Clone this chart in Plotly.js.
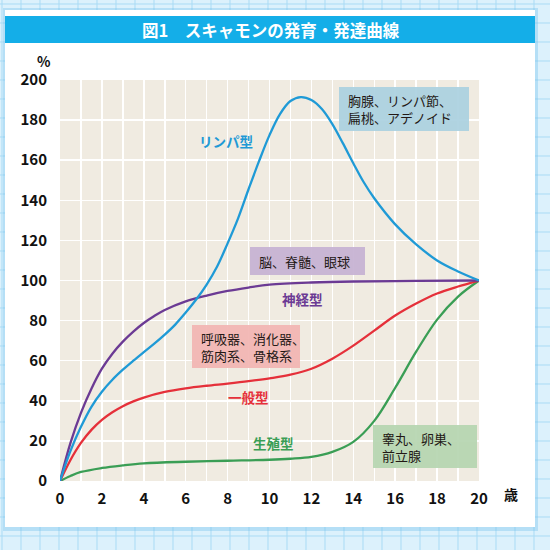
<!DOCTYPE html>
<html>
<head>
<meta charset="utf-8">
<script src="https://cdn.plot.ly/plotly-3.0.1.min.js"></script>
<style>html,body{margin:0;padding:0;background:#fff;}#chart{width:550px;height:550px;}</style>
</head>
<body>
<div id="chart"></div>
<script>
// ---- data (ages in years, development in % of age-20 level) ----
const lymphAge = [0, 0.5, 1, 1.5, 2, 2.5, 3, 3.5, 4, 4.5, 5, 5.5, 6, 6.5, 7, 7.5, 8, 8.5, 9, 9.5, 10, 10.5, 11, 11.5, 12, 12.5, 13, 13.5, 14, 14.5, 15, 16, 17, 18, 19, 20];
const lymphVal = [0, 15, 27, 37, 44.5, 50.5, 55.5, 60, 64.3, 68.5, 73, 78, 84, 90.5, 98, 107, 118.5, 131, 145.5, 159.5, 172.5, 183, 189.5, 191.5, 190, 185.5, 178, 168.5, 158.5, 149, 141, 128, 118, 110, 104.5, 100];

const neuralAge = [0, 0.5, 1, 1.5, 2, 2.5, 3, 3.5, 4, 4.5, 5, 6, 7, 8, 9, 10, 12, 14, 17, 20];
const neuralVal = [0, 19, 34, 46, 56, 63.5, 69.5, 74.5, 78.8, 82.3, 85.3, 89.6, 92.5, 94.8, 96.5, 97.9, 99, 99.5, 99.8, 100];

const generalAge = [0, 0.5, 1, 1.5, 2, 2.5, 3, 3.5, 4, 5, 6, 7, 8, 9, 10, 11, 12, 13, 14, 15, 16, 17, 18, 19, 20];
const generalVal = [0, 10.5, 19, 25.5, 30.5, 34.3, 37.3, 39.7, 41.6, 44.4, 46.2, 47.5, 48.6, 49.8, 51.2, 53, 56, 61, 67.5, 75, 82.5, 88.5, 93.5, 97, 100];

const reproAge = [0, 0.5, 1, 2, 3, 4, 6, 8, 10, 11, 12, 13, 14, 15, 16, 17, 18, 19, 20];
const reproVal = [0, 2.5, 4.5, 6.5, 7.8, 8.8, 9.6, 10.1, 10.6, 11.1, 12, 14.5, 19.5, 30, 46.5, 64.5, 80.5, 92, 100];

const seriesNames = ["リンパ型", "神経型", "一般型", "生殖型"];
const organLabels = [
  "胸腺、リンパ節、<br>扁桃、アデノイド",
  "脳、脊髄、眼球",
  "呼吸器、消化器、<br>筋肉系、骨格系",
  "睾丸、卵巣、<br>前立腺"
];
const xTickVals = [0, 2, 4, 6, 8, 10, 12, 14, 16, 18, 20];
const yTickVals = [0, 20, 40, 60, 80, 100, 120, 140, 160, 180, 200];
const titleText = "図1　スキャモンの発育・発達曲線";
const yUnit = "%";
const xUnit = "歳";

// ---- styling ----
const C = {blue:"#1f9ad6", purple:"#6b3a94", red:"#e5303a", green:"#3a9e55"};
const FONT = "'Noto Sans CJK JP', 'Noto Sans', sans-serif";
const W = 550, H = 550, L = 60, R = 71, T = 80, B = 69;
const PW = W - L - R, PH = H - T - B;
const px = v => (v - L) / PW;          // pixel -> paper x
const py = v => (H - B - v) / PH;      // pixel -> paper y

function line(x, y, color, name) {
  return {x: x, y: y, type: "scatter", mode: "lines", name: name,
    line: {color: color, width: 2.3, shape: "spline", smoothing: 1}, hoverinfo: "skip"};
}
const traces = [
  line(reproAge, reproVal, C.green, seriesNames[3]),
  line(generalAge, generalVal, C.red, seriesNames[2]),
  line(neuralAge, neuralVal, C.purple, seriesNames[1]),
  line(lymphAge, lymphVal, C.blue, seriesNames[0])
];

// background: grid paper, white card, title bar, plot area
const shapes = [];
for (let gx = 2; gx < W; gx += 19) {
  shapes.push({type:"line", xref:"paper", yref:"paper", x0:px(gx), x1:px(gx), y0:py(0), y1:py(H),
    line:{color:"#a9dbf5", width:1}, layer:"below"});
}
for (let gy = 4; gy < H; gy += 19) {
  shapes.push({type:"line", xref:"paper", yref:"paper", x0:px(0), x1:px(W), y0:py(gy), y1:py(gy),
    line:{color:"#a9dbf5", width:1}, layer:"below"});
}
shapes.push({type:"rect", xref:"paper", yref:"paper", x0:px(3), x1:px(538), y0:py(8), y1:py(531),
  fillcolor:"rgba(110,190,235,0.35)", line:{width:0}, layer:"below"});
shapes.push({type:"rect", xref:"paper", yref:"paper", x0:px(5), x1:px(535), y0:py(10), y1:py(527),
  fillcolor:"#ffffff", line:{width:0}, layer:"below"});
shapes.push({type:"rect", xref:"paper", yref:"paper", x0:px(5), x1:px(535), y0:py(16), y1:py(43),
  fillcolor:"#14aee8", line:{width:0}, layer:"below"});
shapes.push({type:"rect", xref:"paper", yref:"paper", x0:0, x1:1, y0:0, y1:1,
  fillcolor:"#f0ebe1", line:{width:0}, layer:"below"});

// annotation boxes (pixel rectangles -> paper coords)
function boxRect(x0, x1, y0, y1, fill) {
  shapes.push({type:"rect", xref:"paper", yref:"paper", x0:px(x0), x1:px(x1), y0:py(y1), y1:py(y0),
    fillcolor: fill, line:{width:0}, layer:"above"});
}
boxRect(339, 469, 87, 131, "rgba(170,208,224,0.92)");
boxRect(250, 365, 247, 275, "rgba(198,177,210,0.92)");
boxRect(192, 300, 325, 368, "rgba(242,180,178,0.92)");
boxRect(373, 477, 425, 468, "rgba(181,213,176,0.92)");

const annotations = [];
function boxText(text, x, yCenter) {
  const lines = text.split("<br>");
  const gap = 17.5;
  lines.forEach((t, i) => {
    const y = yCenter + (i - (lines.length - 1) / 2) * gap;
    annotations.push({text: t, xref:"paper", yref:"paper", x: px(x), y: py(y), xanchor:"left", yanchor:"middle",
      showarrow:false, align:"left", borderpad:0, font:{family: FONT, size: 13, color:"#231815"}});
  });
}
function label(text, x, y, color) {
  annotations.push({text: "<b>" + text + "</b>", xref:"paper", yref:"paper", x: px(x), y: py(y),
    xanchor:"center", yanchor:"middle", showarrow:false,
    font:{family: FONT, size: 13.5, color: color}});
}
boxText(organLabels[0], 347, 109);
boxText(organLabels[1], 258, 261.5);
boxText(organLabels[2], 200, 347);
boxText(organLabels[3], 381, 447);
label(seriesNames[0], 226, 141, C.blue);
label(seriesNames[1], 302, 299, C.purple);
label(seriesNames[2], 248, 397, C.red);
label(seriesNames[3], 273, 443, C.green);
annotations.push(
  {text:"<b>" + titleText + "</b>", xref:"paper", yref:"paper", x:px(271), y:py(29.5),
    xanchor:"center", yanchor:"middle", showarrow:false, font:{family:FONT, size:16.5, color:"#ffffff"}},
  {text:"<b>" + yUnit + "</b>", xref:"paper", yref:"paper", x:px(44), y:py(61),
    xanchor:"center", yanchor:"middle", showarrow:false, font:{family:FONT, size:14, color:"#111"}},
  {text:"<b>" + xUnit + "</b>", xref:"paper", yref:"paper", x:px(511), y:py(494),
    xanchor:"center", yanchor:"middle", showarrow:false, font:{family:FONT, size:14, color:"#111"}}
);

const layout = {
  width: W, height: H,
  margin: {l: L, r: R, t: T, b: B, pad: 0},
  paper_bgcolor: "#dcf1fc",
  plot_bgcolor: "rgba(0,0,0,0)",
  showlegend: false,
  xaxis: {range:[0, 20], tickvals: xTickVals, showgrid: true, gridcolor:"#ffffff", gridwidth: 1.5,
    minor:{dtick: 1, showgrid: true, gridcolor:"#ffffff", gridwidth: 1.5},
    zeroline:false, showline:false, ticks:"outside", ticklen: 4, tickcolor:"rgba(0,0,0,0)",
    tickfont:{family:FONT, size:15, color:"#111", weight:"bold"}, fixedrange:true},
  yaxis: {range:[0, 200], tickvals: yTickVals, showgrid: true, gridcolor:"#ffffff", gridwidth: 1.5,
    zeroline:false, showline:false, ticks:"outside", ticklen: 9, tickcolor:"rgba(0,0,0,0)",
    tickfont:{family:FONT, size:15, color:"#111", weight:"bold"}, fixedrange:true},
  shapes: shapes,
  annotations: annotations
};

Plotly.newPlot("chart", traces, layout, {displayModeBar:false, staticPlot:true});
</script>
</body>
</html>
